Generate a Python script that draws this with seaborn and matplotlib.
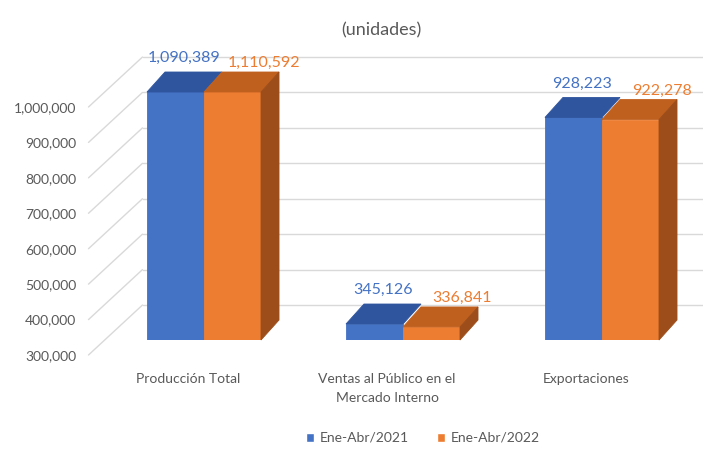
import matplotlib
matplotlib.use("Agg")

import pandas as pd
import matplotlib.pyplot as plt
import seaborn as sns
from matplotlib.patches import Polygon, Patch
from matplotlib.transforms import ScaledTranslation

# ─────────────────────────────────────────────
# DATA
# ─────────────────────────────────────────────
categorias = ["Producción Total",
              "Ventas al Público en el\nMercado Interno",
              "Exportaciones"]
periodos = ["Ene-Abr/2021", "Ene-Abr/2022"]
valores_2021 = [1090389, 345126, 928223]
valores_2022 = [1110592, 336841, 922278]
y_ticks = [300000, 400000, 500000, 600000, 700000, 800000, 900000, 1000000]
titulo = "(unidades)"

AZUL, NARANJA = "#4472C4", "#ED7D31"
TOPE = ["#2F559F", "#C0601F"]
LADO = "#9C4D1A"
GRIS = "#595959"

df = pd.DataFrame({
    "categoria": categorias * 2,
    "periodo": [periodos[0]] * 3 + [periodos[1]] * 3,
    "unidades": valores_2021 + valores_2022,
})

# pseudo-3D geometry, in pixels (display units, up = positive)
PROF_BARRA = (18, 20)   # bar depth
PARED = (38, 35)        # bar plane -> back wall
FRENTE = (-16, -15)     # bar plane -> front edge (labels)

sns.set_style("white")
plt.rcParams["font.family"] = ["Liberation Sans Narrow", "Lato", "DejaVu Sans"]

W, H = 703, 458
fig = plt.figure(figsize=(W / 100, H / 100), dpi=100)
ax = fig.add_axes([104.5 / W, (H - 340) / H, 597 / W, 248 / H])

sns.barplot(data=df, x="categoria", y="unidades", hue="periodo",
            palette=[AZUL, NARANJA], saturation=1, width=0.573,
            linewidth=0, legend=False, ax=ax, zorder=2)

ax.set_xlim(-0.5, 2.5)
ax.set_ylim(y_ticks[0], y_ticks[-1])
sns.despine(ax=ax, left=True, bottom=True)
ax.set_xlabel("")
ax.set_ylabel("")

# pixel -> data unit conversion
px_x = 3.0 / 597
px_y = (y_ticks[-1] - y_ticks[0]) / 248.0

def desplazar(x, y, off):
    return (x + off[0] * px_x, y + off[1] * px_y)

# back wall gridlines + side-wall diagonals
x0 = ax.get_xlim()[0]
for v in y_ticks:
    a = desplazar(x0, v, PARED)
    ax.plot([a[0], 3.0], [a[1], a[1]], color="#D9D9D9", lw=1.0,
            zorder=0.5, clip_on=False)
    f = desplazar(x0, v, FRENTE)
    ax.plot([f[0], a[0]], [f[1], a[1]], color="#D9D9D9", lw=1.0,
            zorder=0.5, clip_on=False)

# top and side faces, data labels
ymin, ymax = ax.get_ylim()
n = len(categorias)
for i, p in enumerate(ax.patches[:2 * n]):
    serie = i // n
    p.set_edgecolor(p.get_facecolor())
    p.set_linewidth(0.6)
    xa = p.get_x()
    xb = xa + p.get_width()
    top = min(p.get_height(), ymax)
    fl, fr = (xa, top), (xb, top)
    bl, br = desplazar(xa, top, PROF_BARRA), desplazar(xb, top, PROF_BARRA)
    ax.add_patch(Polygon([fl, fr, br, bl], closed=True, facecolor=TOPE[serie],
                         edgecolor=TOPE[serie], lw=0.6, zorder=3, clip_on=False))
    if serie == 1:
        bb = desplazar(xb, ymin, PROF_BARRA)
        ax.add_patch(Polygon([(xb, ymin), fr, br, bb], closed=True,
                             facecolor=LADO, edgecolor=LADO, lw=0.6, zorder=3,
                             clip_on=False))
    valor = valores_2021[i % n] if serie == 0 else valores_2022[i % n]
    cx = (xa + xb) / 2
    lx, ly = desplazar(cx, top, PROF_BARRA)
    dx, dy = (-9, 14) if serie == 0 else (13, 9)
    lx, ly = desplazar(lx, ly, (dx, dy))
    ax.text(lx, ly, f"{valor:,}", ha="center", va="center", fontsize=11.5,
            color=AZUL if serie == 0 else NARANJA, zorder=5, clip_on=False)

# ticks placed on the front edge
frente = ScaledTranslation(FRENTE[0] / 100, FRENTE[1] / 100, fig.dpi_scale_trans)

ax.set_yticks(y_ticks)
ax.set_yticklabels([f"{v:,}" for v in y_ticks], color=GRIS, fontsize=10)
ax.tick_params(axis="y", length=0, pad=9)
for t in ax.get_yticklabels():
    t.set_transform(t.get_transform() + frente)

ax.set_xticks(range(n))
ax.set_xticklabels(categorias, color=GRIS, fontsize=10, linespacing=1.7)
ax.tick_params(axis="x", length=0, pad=13)
for t in ax.get_xticklabels():
    t.set_transform(t.get_transform() + frente)

fig.text(381 / W, 1 - 30 / H, titulo, ha="center", va="center",
         fontsize=13, color=GRIS)

handles = [Patch(facecolor=AZUL, label=periodos[0]),
           Patch(facecolor=NARANJA, label=periodos[1])]
fig.legend(handles=handles, loc="center", bbox_to_anchor=(423 / W, 1 - 438 / H),
           ncol=2, frameon=False, fontsize=10, handlelength=0.6,
           handleheight=0.6, handletextpad=0.4, columnspacing=2.0,
           labelcolor=GRIS)

fig.savefig("out.png", dpi=100)
